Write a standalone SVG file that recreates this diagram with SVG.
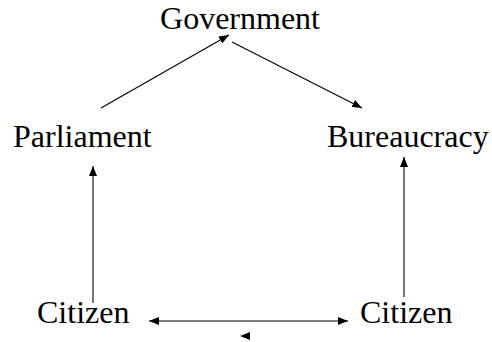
<svg xmlns="http://www.w3.org/2000/svg" width="492" height="342" viewBox="0 0 492 342">
<style>
.lbl{font-family:"Liberation Serif","Times New Roman",serif;font-size:32px;fill:#000;}
.c{stroke:#000;stroke-width:1.1;fill:none;}
</style>
<defs>
<marker id="ah" viewBox="0 0 10 8" refX="10" refY="4" markerWidth="10" markerHeight="8" markerUnits="userSpaceOnUse" orient="auto-start-reverse">
<path d="M0,0 L10,4 L0,8 Z" fill="#000"/>
</marker>
</defs>
<rect width="492" height="342" fill="#fff"/>
<g id="government"><text class="lbl" x="240" y="29" text-anchor="middle">Government</text></g>
<g id="parliament"><text class="lbl" x="13" y="147">Parliament</text></g>
<g id="bureaucracy"><text class="lbl" x="327" y="147">Bureaucracy</text></g>
<g id="citizen-left"><text class="lbl" x="37" y="323">Citizen</text></g>
<g id="citizen-right"><text class="lbl" x="360" y="323">Citizen</text></g>
<g id="connectors">
<line class="c" x1="101" y1="108" x2="229" y2="35" marker-end="url(#ah)"/>
<line class="c" x1="232" y1="42" x2="362" y2="108" marker-end="url(#ah)"/>
<line class="c" x1="93" y1="303" x2="93" y2="166" marker-end="url(#ah)"/>
<line class="c" x1="404" y1="297" x2="404" y2="157" marker-end="url(#ah)"/>
<line class="c" x1="149" y1="321" x2="348" y2="321" marker-start="url(#ah)" marker-end="url(#ah)"/>
<path d="M240,336 L250,332 L250,340 Z" fill="#000"/>
</g>
</svg>
